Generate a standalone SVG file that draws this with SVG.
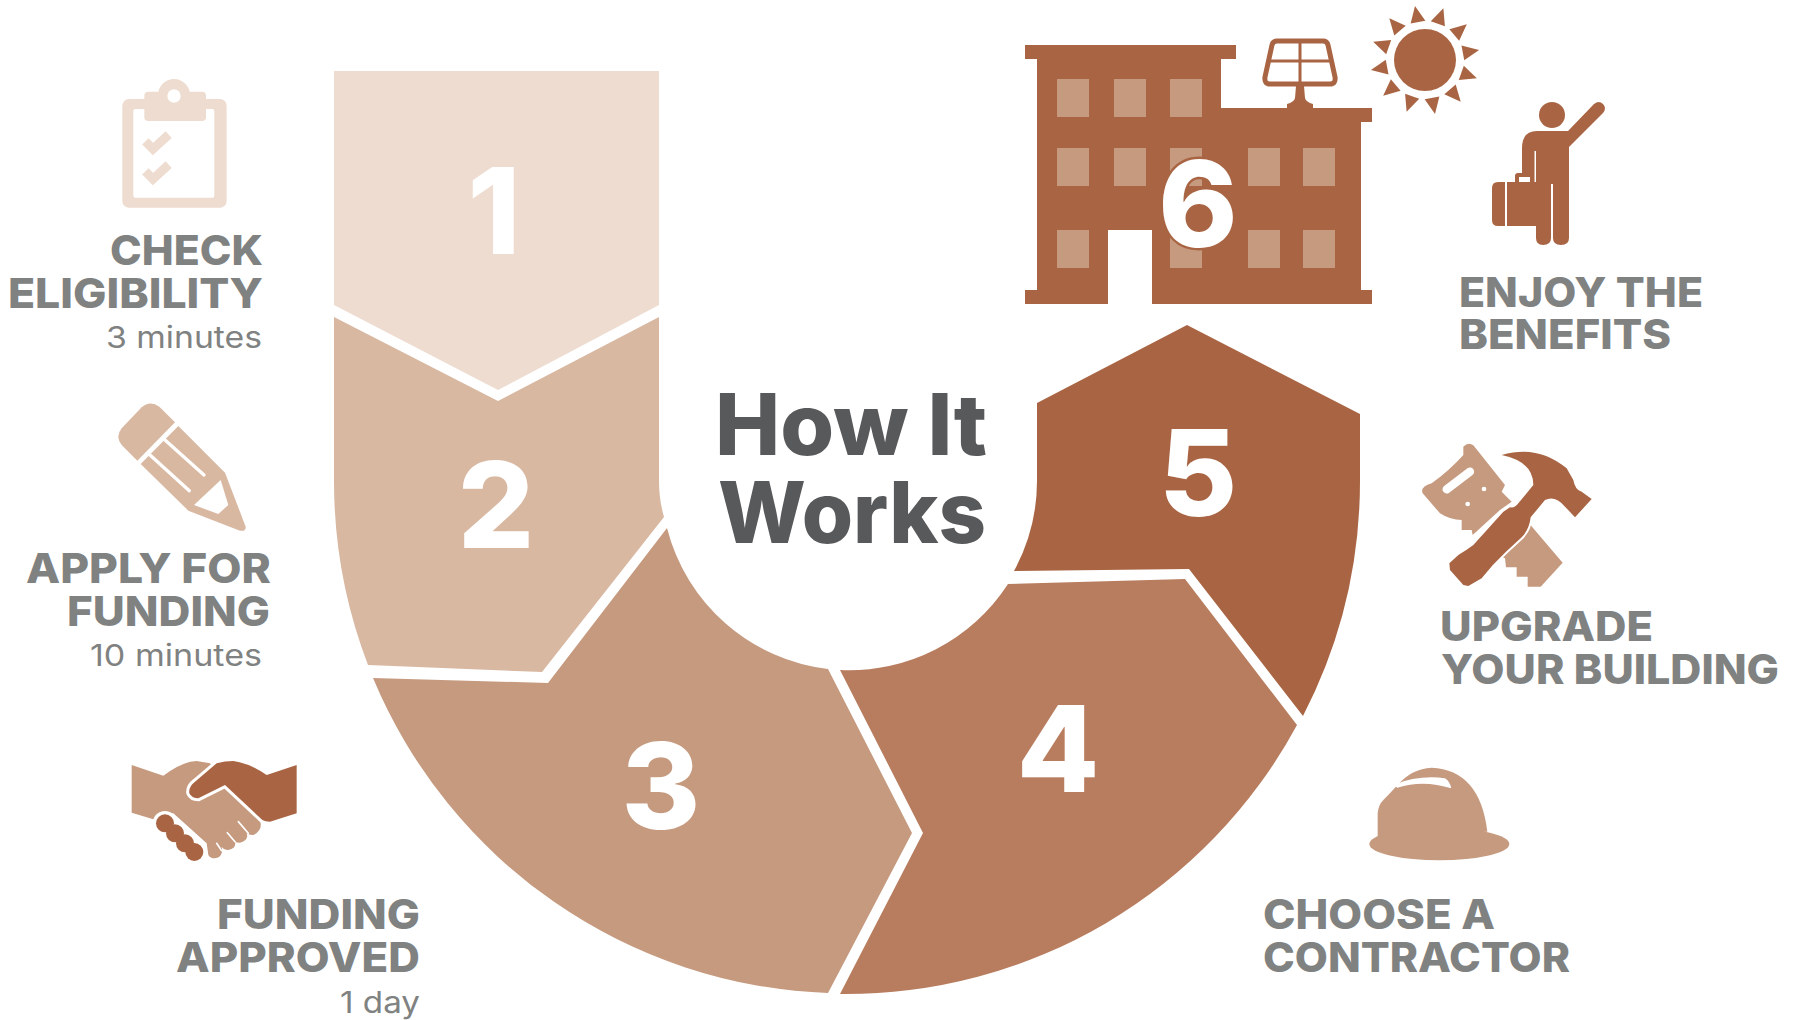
<svg xmlns="http://www.w3.org/2000/svg" width="1800" height="1020" viewBox="0 0 1800 1020">
<style>
text{font-family:"Inter","Open Sans","Liberation Sans",sans-serif}
.h{font-size:41px;font-weight:800;fill:#808281}
.s{font-size:30px;font-weight:400;fill:#808281}
.n{font-size:120px;font-weight:800;fill:#fff;text-anchor:middle}
.t{font-size:85px;font-weight:800;fill:#58595b}
.c1{fill:#eedcd0}.c2{fill:#d9b8a2}.c3{fill:#c69a7f}.c4{fill:#b87d5e}.c5{fill:#a96543}
.w{fill:#fff}
.wl{fill:none;stroke:#fff;stroke-linecap:round}
</style>
<defs>
<polygon id="ray" points="0,-55 -7.500,-38.500 7.500,-38.500" class="c5"/>
</defs>
<rect width="1800" height="1020" fill="#fff"/>

<g id="step-1">
<polygon class="c1" points="334,71 659,71 659,305 498,390 334,305"/>
<text class="n" x="494" y="254">1</text>
<g transform="translate(0,60) scale(.33333)">
<rect class="c1" x="367" y="117" width="313" height="326" rx="20"/>
<rect class="w" x="400" y="147" width="243" height="266" rx="6"/>
<circle class="c1" cx="522" cy="105" r="48"/>
<rect class="c1" x="433" y="95" width="185" height="88" rx="12"/>
<circle class="w" cx="522" cy="108" r="20"/>
<polyline points="436,244 459,267 506,224" fill="none" stroke="#eedcd0" stroke-width="27"/>
<polyline points="436,334 459,357 506,314" fill="none" stroke="#eedcd0" stroke-width="27"/>
</g>
<text class="h" x="110" y="265" textLength="153" lengthAdjust="spacingAndGlyphs">CHECK</text>
<text class="h" x="8" y="308" textLength="255" lengthAdjust="spacingAndGlyphs">ELIGIBILITY</text>
<text class="s" x="106" y="348" textLength="156" lengthAdjust="spacingAndGlyphs">3 minutes</text>
</g>

<g id="step-2">
<path class="c2" d="M334,317 L498,401 L659,317 V481 Q659,500 664,517 L542,672 L368,665 A513,513 0 0 1 334,481 Z"/>
<text class="n" x="496" y="548">2</text>
<g transform="translate(0,380) scale(.33333)">
<path class="c2" d="M525,127 L412,242 L365,195 Q345,170 365,145 L425,82 Q450,60 478,80 Z"/>
<path class="c2" d="M535,138 L675,278 L737,440 Q738,455 720,452 L565,392 L422,252 Z"/>
<polygon class="w" points="662,300 685,375 655,402 582,375"/>
<path class="wl" stroke-width="10" d="M450,225 L568,332 M495,180 L612,285"/>
</g>
<text class="h" x="26" y="583" textLength="245" lengthAdjust="spacingAndGlyphs">APPLY FOR</text>
<text class="h" x="67" y="626" textLength="203" lengthAdjust="spacingAndGlyphs">FUNDING</text>
<text class="s" x="90" y="666" textLength="172" lengthAdjust="spacingAndGlyphs">10 minutes</text>
</g>

<g id="step-3">
<path class="c3" d="M373,678 L548,683 L667,528 A189,189 0 0 0 828,669 L912,833 L828,993 A513,513 0 0 1 373,678 Z"/>
<text class="n" x="661" y="829">3</text>
<g transform="translate(100,730) scale(.33333)">
<path class="c3" d="M95,105 L190,137 Q250,93 290,93 L330,100 L480,270 Q490,300 460,315 Q448,316 440,310 Q448,330 420,338 Q410,338 405,335 Q410,355 385,360 Q372,360 365,350 Q372,380 345,385 Q330,385 325,375 L320,340 L220,250 L160,268 L95,248 Z"/>
<path class="wl" stroke-width="5" d="M415,275 L445,310 M382,308 L405,335 M350,340 L365,362"/>
<path class="c5" stroke="#fff" stroke-width="18" paint-order="stroke" stroke-linejoin="round" d="M350,100 Q375,93 400,93 Q450,100 500,135 L590,105 V250 L510,275 Q495,275 487,270 L375,165 L295,205 Q275,205 268,190 Q265,170 285,155 Z"/>
<g fill="#fff"><circle cx="195" cy="280" r="37"/><circle cx="225" cy="310" r="37"/><circle cx="255" cy="340" r="37"/><circle cx="283" cy="368" r="37"/></g>
<g class="c5"><circle cx="195" cy="280" r="27"/><circle cx="225" cy="310" r="27"/><circle cx="255" cy="340" r="27"/><circle cx="283" cy="366" r="27"/></g>
</g>
<text class="h" x="217" y="929" textLength="203" lengthAdjust="spacingAndGlyphs">FUNDING</text>
<text class="h" x="176" y="972" textLength="244" lengthAdjust="spacingAndGlyphs">APPROVED</text>
<text class="s" x="340" y="1013" textLength="80" lengthAdjust="spacingAndGlyphs">1 day</text>
</g>

<g id="step-4">
<path class="c4" d="M840,670 A189,189 0 0 0 1008,584 L1185,579 L1297,725 A513,513 0 0 1 840,994 L923,833 Z"/>
<text class="n" x="1058" y="792">4</text>
<g transform="translate(1250,750) scale(.33333)">
<ellipse class="c3" cx="568" cy="282" rx="210" ry="49"/>
<path class="c3" d="M383,265 V190 Q385,165 400,150 Q418,132 440,108 Q485,55 545,53 Q690,60 712,245 Z"/>
<path class="w" d="M430,104 Q510,74 585,85 Q600,95 604,115 Q520,88 442,113 Z"/>
</g>
<text class="h" x="1263" y="929" textLength="232" lengthAdjust="spacingAndGlyphs">CHOOSE A</text>
<text class="h" x="1263" y="972" textLength="307" lengthAdjust="spacingAndGlyphs">CONTRACTOR</text>
</g>

<g id="step-5">
<path class="c5" d="M1014,571 A189,189 0 0 0 1037,481 V403 L1187,325 L1360,414 V481 A513,513 0 0 1 1303,716 L1189,569 Z"/>
<text class="n" x="1198" y="516">5</text>
<g transform="translate(1400,430) scale(.33333)">
<path class="c3" d="M190,50 Q205,35 220,46 L315,165 L305,185 L335,215 L300,240 L218,315 L215,300 L185,300 L185,270 Q150,270 120,250 L68,190 Q60,170 95,160 Q150,120 190,75 Z"/>
<path class="wl" stroke-width="25" d="M140,178 L210,125"/>
<circle class="w" cx="252" cy="177" r="7"/><circle class="w" cx="203" cy="222" r="7"/>
<path class="c3" d="M387,280 L488,398 L422,470 H383 V440 H350 V412 H318 L315,385 L305,380 L365,320 Q385,310 387,280 Z"/>
<path class="c5" stroke="#fff" stroke-width="12" paint-order="stroke" d="M305,75 Q340,65 370,65 Q440,65 500,115 L520,150 Q525,180 545,185 L575,207 L525,262 L495,230 Q465,195 435,210 L392,262 Q388,298 365,322 L318,365 Q278,402 245,445 L205,468 L190,465 L150,420 L148,400 L175,375 Q200,360 220,345 L310,245 L330,232 Q345,235 355,220 L400,165 Q400,95 305,75 Z"/>
</g>
<text class="h" x="1440" y="641" textLength="213" lengthAdjust="spacingAndGlyphs">UPGRADE</text>
<text class="h" x="1441" y="684" textLength="338" lengthAdjust="spacingAndGlyphs">YOUR BUILDING</text>
</g>

<g id="step-6">
<path class="c5" d="M1025,45 H1236 V59 H1221 V108 H1372 V122 H1361 V290 H1372 V304 H1152 V230 H1108 V304 H1025 V290 H1037 V59 H1025 Z"/>
<g class="c3">
<rect x="1057" y="79" width="32" height="38"/><rect x="1114" y="79" width="32" height="38"/><rect x="1170" y="79" width="32" height="38"/>
<rect x="1057" y="148" width="32" height="38"/><rect x="1114" y="148" width="32" height="38"/><rect x="1170" y="148" width="32" height="38"/><rect x="1248" y="148" width="32" height="38"/><rect x="1303" y="148" width="32" height="38"/>
<rect x="1057" y="230" width="32" height="38"/><rect x="1170" y="230" width="32" height="38"/><rect x="1248" y="230" width="32" height="38"/><rect x="1303" y="230" width="32" height="38"/>
</g>
<path d="M1277,41 H1323 Q1327,41 1328,45 L1335,77 Q1336,84 1330,84 H1270 Q1264,84 1265,77 L1272,45 Q1273,41 1277,41 Z" fill="none" stroke="#a96543" stroke-width="5" stroke-linejoin="round"/>
<path d="M1300,41 V84 M1270,61 H1330" fill="none" stroke="#a96543" stroke-width="3"/>
<path class="c5" d="M1296,86 H1304 L1305,98 Q1306,102 1313,104 V109 H1287 V104 Q1294,102 1295,98 Z"/>
<circle class="c5" cx="1425" cy="60" r="31"/>
<g transform="translate(1425,60)">
<use href="#ray" transform="rotate(-10.5)"/><use href="#ray" transform="rotate(19.5)"/><use href="#ray" transform="rotate(49.5)"/><use href="#ray" transform="rotate(79.5)"/><use href="#ray" transform="rotate(109.5)"/><use href="#ray" transform="rotate(139.5)"/><use href="#ray" transform="rotate(169.5)"/><use href="#ray" transform="rotate(199.5)"/><use href="#ray" transform="rotate(229.5)"/><use href="#ray" transform="rotate(259.5)"/><use href="#ray" transform="rotate(289.5)"/><use href="#ray" transform="rotate(319.5)"/>
</g>
<text class="n" x="1198" y="247" stroke="#a96543" stroke-width="5" paint-order="stroke">6</text>
<circle class="c5" cx="1552" cy="115" r="13"/>
<path class="c5" d="M1522,148 Q1522,131 1537,131 H1568 L1594,104 Q1599,100 1603,104 Q1607,108 1603,113 L1569,147 V238 Q1569,245 1561,245 Q1553,245 1553,238 V184 H1551 V238 Q1551,245 1543,245 Q1536,245 1536,238 V226 H1507 V182 H1515 V176 Q1515,173 1518,173 H1522 Z"/>
<path class="c5" d="M1505,182 V226 H1498 Q1492,226 1492,220 V188 Q1492,182 1498,182 Z"/>
<rect class="w" x="1519" y="177" width="11" height="5"/>
<rect class="w" x="1534.500" y="151" width="1.500" height="31"/>
<text class="h" x="1459" y="307" textLength="244" lengthAdjust="spacingAndGlyphs">ENJOY THE</text>
<text class="h" x="1459" y="349" textLength="212" lengthAdjust="spacingAndGlyphs">BENEFITS</text>
</g>

<g id="title">
<text class="t" x="715" y="455" textLength="272" lengthAdjust="spacingAndGlyphs">How It</text>
<text class="t" x="718" y="543" textLength="268" lengthAdjust="spacingAndGlyphs">Works</text>
</g>
</svg>
